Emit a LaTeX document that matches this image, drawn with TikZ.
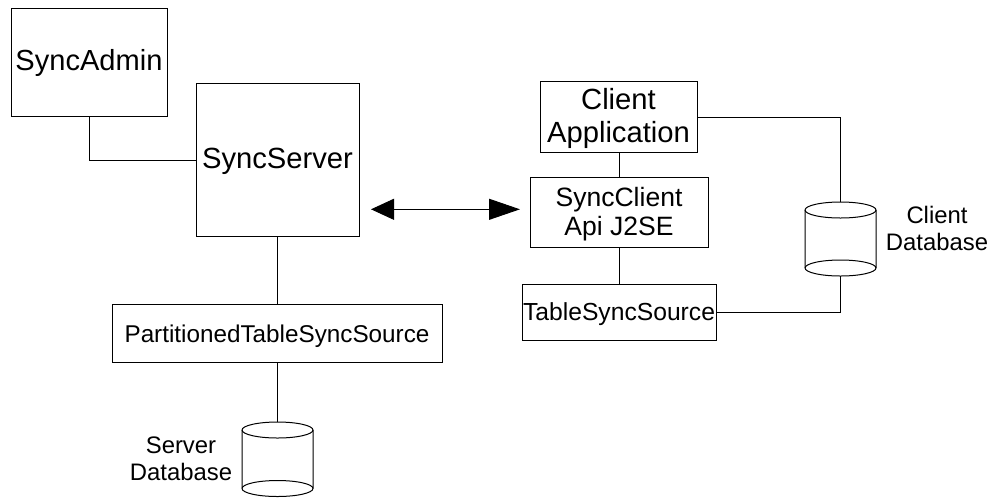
\documentclass[tikz,border=0pt]{standalone}
\usepackage{fontspec}
\setmainfont{Liberation Sans}
\usetikzlibrary{arrows.meta}
\tikzset{
  x=0.75pt,y=-0.75pt,
  boxn/.style={draw=black,line width=0.75pt,fill=white,inner sep=0pt,outer sep=0pt,anchor=north west},
  lbl/.style={inner sep=0pt,outer sep=0pt,align=center,font=\fontsize{17.9pt}{20.2pt}\selectfont},
  line/.style={draw=black,line width=0.75pt},
  dbs/.style={draw=black,line width=0.75pt,fill=white}
}
\newcommand{\boxat}[9]{% name x y w h fontsize leading dy text
  \node[boxn,minimum width=#4*0.75pt,minimum height=#5*0.75pt,
    label={[inner sep=0pt,outer sep=0pt,align=center,yshift=-#8*0.75pt,font=\fontsize{#6}{#7}\selectfont]center:#9}] (#1) at (#2,#3) {};}
\newcommand{\dbat}[4]{% name cx topcentre bottomcentre
  \coordinate (#1top) at (#2,#3-8);
  \coordinate (#1bot) at (#2,#4+8);
  \path[dbs] (#2-35.5,#3) -- (#2-35.5,#4) arc[start angle=180,end angle=360,x radius=35.5,y radius=-8] -- (#2+35.5,#3) arc[start angle=0,end angle=180,x radius=35.5,y radius=-8] -- cycle;
  \draw[line] (#2-35.5,#3) arc[start angle=180,end angle=360,x radius=35.5,y radius=-8];
  \draw[line] (#2-35.5,#4) arc[start angle=180,end angle=0,x radius=35.5,y radius=-8];
}
\begin{document}
\begin{tikzpicture}
\useasboundingbox (0,0) rectangle (991,497);
\fill[white] (0,0) rectangle (991,497);
\boxat{admin}{11}{8}{156}{108}{21.8pt}{24.5pt}{1}{SyncAdmin}
\boxat{server}{196}{83}{163}{153}{21.9pt}{24.5pt}{2}{SyncServer}
\boxat{part}{112}{304}{330}{58}{18.2pt}{21pt}{3}{PartitionedTableSyncSource}
\boxat{app}{540}{81}{157}{71}{21.9pt}{24.7pt}{2}{Client\\Application}
\boxat{sc}{530}{177}{178}{70}{19.9pt}{21.8pt}{2.5}{SyncClient\\Api J2SE}
\boxat{tss}{522}{284}{194}{56}{18.5pt}{21pt}{2}{TableSyncSource}
\dbat{sdb}{277.5}{430}{488.5}
\dbat{cdb}{840.5}{210}{268}
\node[lbl] (sl) at (181,459) {Server\\Database};
\node[lbl] (cl) at (937,228) {Client\\Database};
\coordinate (j1) at (89,160);
\coordinate (aL) at (371,209.3);
\coordinate (aR) at (520,209.3);
\draw[line] (admin.south -| j1) -- (j1) -- (server.west |- j1);
\draw[line] (server.south -| 277,0) -- (part.north -| 277,0);
\draw[line] (part.south -| sdbtop) -- (sdbtop);
\draw[line] (app.south -| 619,0) -- (sc.north -| 619,0);
\draw[line] (sc.south -| 619,0) -- (tss.north -| 619,0);
\draw[line] (app.east |- 0,117) -| (cdbtop);
\draw[line] (tss.east |- 0,312) -| (cdbbot);
\path (aL) -- (aR) coordinate[pos=0.5] (aM);
\draw[line,-{Triangle[length=23*0.75pt,width=21*0.75pt]}] (aM) -- (aL);
\draw[line,-{Triangle[length=31*0.75pt,width=21*0.75pt]}] (aM) -- (aR);
\end{tikzpicture}
\end{document}
